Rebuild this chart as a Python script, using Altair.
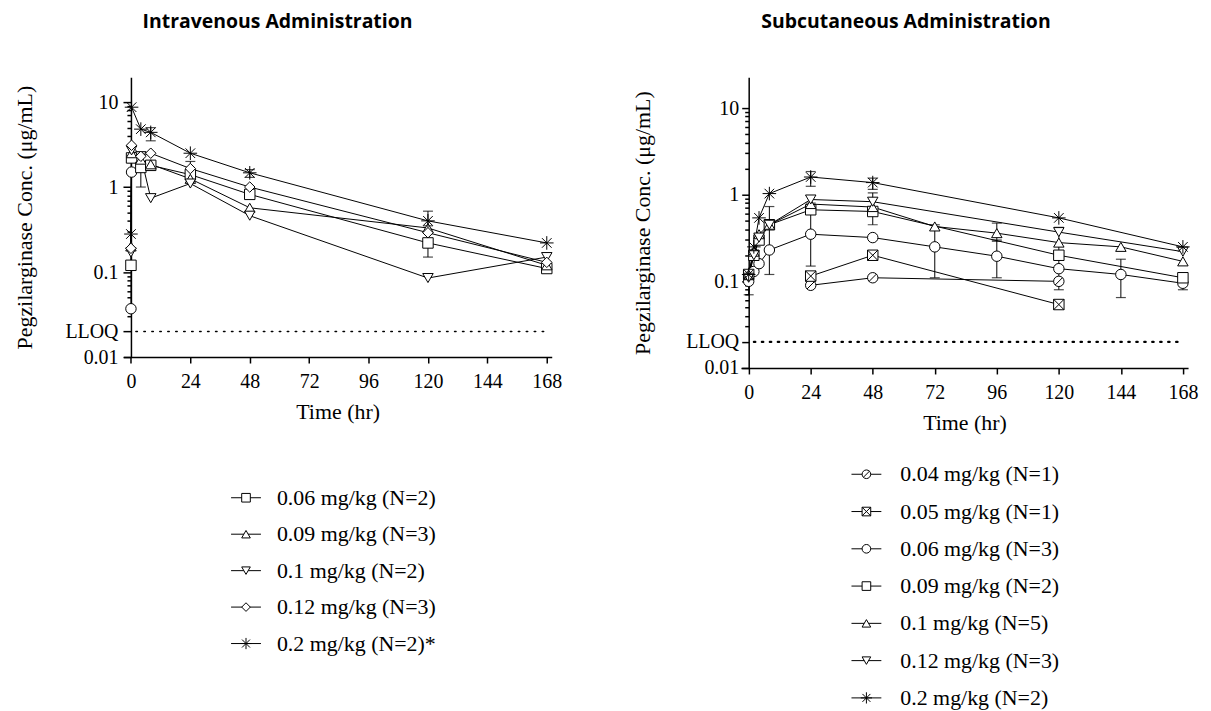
import altair as alt
import pandas as pd

SERIF = "Liberation Serif"
TITLE_FONT = "Open Sans"

# ---------------- marker shapes ----------------
STAR = "M-1.3,0L1.3,0M0,-1.3L0,1.3M-0.92,-0.92L0.92,0.92M-0.92,0.92L0.92,-0.92"
SQUARE_X = "M-1,-1L1,-1L1,1L-1,1Z M-1,-1L1,1 M-1,1L1,-1"
CIRCLE_SLASH = "M1,0A1,1,0,1,1,-1,0A1,1,0,1,1,1,0Z M-0.7,0.7L0.7,-0.7"

# ---------------- axis ticks ----------------
x_ticks = [0, 24, 48, 72, 96, 120, 144, 168]
y_major = [0.01, 0.02, 0.1, 1, 10]
y_minor = [0.03, 0.04, 0.05, 0.06, 0.07, 0.08, 0.09,
           0.2, 0.3, 0.4, 0.5, 0.6, 0.7, 0.8, 0.9,
           2, 3, 4, 5, 6, 7, 8, 9]
lloq_value = [0.02]
lloq_x = [2, 168]

# ---------------- Intravenous ----------------
iv_labels = ["0.06 mg/kg (N=2)", "0.09 mg/kg (N=3)", "0.1 mg/kg (N=2)",
             "0.12 mg/kg (N=3)", "0.2 mg/kg (N=2)*"]
iv_shapes = ["square", "triangle-up", "triangle-down", "diamond", STAR]
iv_times = [0, 0.25, 4, 8, 24, 48, 120, 168]
iv_006 = [0.12, 2.2, 1.7, 1.8, 1.4, 0.82, 0.22, 0.11]
iv_009 = [0.20, 2.5, 2.1, 1.85, 1.25, 0.57, 0.33, 0.12]
iv_010 = [0.17, 2.7, 2.3, 0.74, 1.1, 0.46, 0.085, 0.15]
iv_012 = [0.19, 3.1, 2.3, 2.5, 1.65, 1.0, 0.29, 0.13]
iv_020 = [0.28, 8.7, 4.8, 4.4, 2.5, 1.47, 0.40, 0.22]
iv_extra_times = [0, 0.25]
iv_extra = [0.037, 1.5]

iv_err_time = [4, 8, 24, 48, 120, 120, 168]
iv_err_lo = [1.0, 3.5, 1.3, 1.3, 0.15, 0.22, 0.10]
iv_err_hi = [2.6, 5.0, 2.0, 1.6, 0.35, 0.52, 0.125]

# ---------------- Subcutaneous ----------------
sc_labels = ["0.04 mg/kg (N=1)", "0.05 mg/kg (N=1)", "0.06 mg/kg (N=3)",
             "0.09 mg/kg (N=2)", "0.1 mg/kg (N=5)", "0.12 mg/kg (N=3)",
             "0.2 mg/kg (N=2)"]
sc_shapes = [CIRCLE_SLASH, SQUARE_X, "circle", "square", "triangle-up",
             "triangle-down", STAR]
sc_t_004 = [24, 48, 120]
sc_004 = [0.09, 0.11, 0.10]
sc_t_005 = [24, 48, 120]
sc_005 = [0.115, 0.20, 0.054]
sc_t_006 = [0, 2, 4, 8, 24, 48, 72, 96, 120, 144, 168]
sc_006 = [0.10, 0.13, 0.16, 0.23, 0.35, 0.32, 0.25, 0.195, 0.14, 0.12, 0.095]
sc_t_009 = [0, 2, 4, 8, 24, 48, 120, 168]
sc_009 = [0.12, 0.20, 0.30, 0.45, 0.67, 0.64, 0.20, 0.11]
sc_t_010 = [0, 2, 4, 8, 24, 48, 72, 96, 120, 144, 168]
sc_010 = [0.12, 0.22, 0.35, 0.45, 0.78, 0.72, 0.43, 0.36, 0.28, 0.25, 0.17]
sc_t_012 = [0, 2, 4, 8, 24, 48, 120, 168]
sc_012 = [0.11, 0.20, 0.32, 0.45, 0.88, 0.83, 0.37, 0.22]
sc_t_020 = [0, 2, 4, 8, 24, 48, 120, 168]
sc_020 = [0.12, 0.25, 0.54, 1.03, 1.6, 1.38, 0.54, 0.25]

sc_err_time = [0, 8, 24, 24, 48, 48, 72, 96, 96, 120, 120, 144, 168]
sc_err_lo = [0.07, 0.12, 0.15, 1.25, 0.45, 1.15, 0.11, 0.11, 0.29, 0.08, 0.22, 0.065, 0.08]
sc_err_hi = [0.13, 0.73, 0.80, 1.85, 1.05, 1.55, 0.45, 0.30, 0.47, 0.20, 0.42, 0.18, 0.11]


def long_df(pairs):
    rows = []
    for label, ts, vs in pairs:
        for t, v in zip(ts, vs):
            rows.append({"series": label, "t": t, "v": v})
    return pd.DataFrame(rows)


iv_df = long_df([(iv_labels[0], iv_times, iv_006), (iv_labels[1], iv_times, iv_009),
                 (iv_labels[2], iv_times, iv_010), (iv_labels[3], iv_times, iv_012),
                 (iv_labels[4], iv_times, iv_020)])
iv_extra_df = pd.DataFrame({"t": iv_extra_times, "v": iv_extra})
iv_err_df = pd.DataFrame({"t": iv_err_time, "lo": iv_err_lo, "hi": iv_err_hi})

sc_df = long_df([(sc_labels[0], sc_t_004, sc_004), (sc_labels[1], sc_t_005, sc_005),
                 (sc_labels[2], sc_t_006, sc_006), (sc_labels[3], sc_t_009, sc_009),
                 (sc_labels[4], sc_t_010, sc_010), (sc_labels[5], sc_t_012, sc_012),
                 (sc_labels[6], sc_t_020, sc_020)])
sc_err_df = pd.DataFrame({"t": sc_err_time, "lo": sc_err_lo, "hi": sc_err_hi})

lloq_df = pd.DataFrame({"t": [lloq_x[0]], "t2": [lloq_x[1]], "v": lloq_value})
minor_df = pd.DataFrame({"m": y_minor})

LABEL_EXPR = ("datum.value < 0.015 ? '0.01' : datum.value < 0.05 ? 'LLOQ' : "
              "datum.value < 0.5 ? '0.1' : datum.value < 5 ? '1' : '10'")

X_MIN, X_MAX = -3, 170


def panel(df, err_df, labels, shapes, width, height, y_top, title, label_pad,
          tick_major, y_title_pad, dot_width, extra_df=None):
    xs = alt.Scale(domain=[X_MIN, X_MAX], nice=False, zero=False)
    ys = alt.Scale(type="log", domain=[0.01, y_top], nice=False)
    off = -width * (0 - X_MIN) / (X_MAX - X_MIN)
    x_axis = alt.Axis(values=x_ticks, title="Time (hr)", tickSize=6, labelPadding=9,
                      titlePadding=10, grid=False)
    ax_major = alt.Axis(values=y_major, labelExpr=LABEL_EXPR,
                        title="Pegzilarginase Conc. (μg/mL)", tickSize=tick_major,
                        labelPadding=label_pad, titlePadding=y_title_pad, offset=off,
                        orient="left", grid=False)
    ax_minor = alt.Axis(values=y_minor, labels=False, title=None, tickSize=4,
                        domain=False, offset=off, orient="left", grid=False)
    shape_scale = alt.Scale(domain=labels, range=shapes)
    X = alt.X("t:Q", scale=xs, axis=x_axis)

    lines = alt.Chart(df).mark_line(color="black", strokeWidth=1).encode(
        x=X, y=alt.Y("v:Q", scale=ys, axis=ax_major), detail="series:N")
    minor = alt.Chart(minor_df).mark_point(opacity=0).encode(
        x=alt.value(0), y=alt.Y("m:Q", scale=ys, axis=ax_minor))
    lloq = alt.Chart(lloq_df).mark_rule(color="black", strokeDash=[1.5, 6.5],
                                        strokeWidth=dot_width, strokeCap="round").encode(
        x=X, x2="t2:Q", y=alt.Y("v:Q", scale=ys, axis=None))
    err_rule = alt.Chart(err_df).mark_rule(color="black", strokeWidth=1).encode(
        x=X, y=alt.Y("lo:Q", scale=ys, axis=None), y2="hi:Q")
    cap_lo = alt.Chart(err_df).mark_tick(color="black", orient="horizontal", size=10,
                                         thickness=1.2).encode(
        x=X, y=alt.Y("lo:Q", scale=ys, axis=None))
    cap_hi = alt.Chart(err_df).mark_tick(color="black", orient="horizontal", size=10,
                                         thickness=1.2).encode(
        x=X, y=alt.Y("hi:Q", scale=ys, axis=None))
    layers = [lines, lloq, minor, err_rule, cap_lo, cap_hi]
    if extra_df is not None:
        ex_line = alt.Chart(extra_df).mark_line(color="black", strokeWidth=1).encode(
            x=X, y=alt.Y("v:Q", scale=ys, axis=None))
        ex_pts = alt.Chart(extra_df).mark_point(
            shape="circle", filled=True, fill="white", stroke="black",
            strokeWidth=1, size=110, opacity=1).encode(
            x=X, y=alt.Y("v:Q", scale=ys, axis=None))
        layers += [ex_line, ex_pts]
    pts = alt.Chart(df).mark_point(filled=True, fill="white", stroke="black",
                                   strokeWidth=1, size=110, opacity=1).encode(
        x=X, y=alt.Y("v:Q", scale=ys, axis=None),
        shape=alt.Shape("series:N", scale=shape_scale, legend=None))
    layers.append(pts)
    return alt.layer(*layers).resolve_axis(y="independent").properties(
        width=width, height=height,
        title=alt.TitleParams(text=title, font=TITLE_FONT, fontSize=19.5, fontWeight="bold",
                              anchor="start", frame="bounds", dx=130, offset=45,
                              color="black"),
    )


def legend_view(labels, shapes, width, height, x_line, x_text):
    ldf = pd.DataFrame({"label": labels})
    y = alt.Y("label:N", sort=labels, scale=alt.Scale(type="point", padding=0.5), axis=None)
    base = alt.Chart(ldf)
    rule = base.mark_rule(color="black", strokeWidth=1).encode(
        x=alt.value(x_line), x2=alt.value(x_line + 30), y=y)
    pts = base.mark_point(filled=True, fill="white", stroke="black", strokeWidth=1,
                          size=75, opacity=1).encode(
        x=alt.value(x_line + 15), y=y,
        shape=alt.Shape("label:N", scale=alt.Scale(domain=labels, range=shapes), legend=None))
    txt = base.mark_text(align="left", baseline="middle", font=SERIF, fontSize=22,
                         color="black").encode(x=alt.value(x_text), y=y, text="label:N")
    return alt.layer(rule, pts, txt).properties(width=width, height=height)


iv_panel = panel(iv_df, iv_err_df, iv_labels, iv_shapes, 430, 281, 19.6,
                 "Intravenous Administration", 5, 8, 29, 1.5, extra_df=iv_extra_df)
sc_panel = panel(sc_df, sc_err_df, sc_labels, sc_shapes, 449, 292, 22.7,
                 "Subcutaneous Administration", 3, 7, 31, 2.2)

left = alt.vconcat(iv_panel, legend_view(iv_labels, iv_shapes, 330, 183, 108, 154),
                   spacing=57)
right = alt.vconcat(sc_panel, legend_view(sc_labels, sc_shapes, 330, 262, 111, 160),
                    spacing=22)

chart = alt.hconcat(left, right, spacing=69).resolve_scale(shape="independent").configure_view(
    stroke=None
).configure_axis(
    domainColor="black", tickColor="black", labelColor="black", titleColor="black",
    labelFont=SERIF, titleFont=SERIF, labelFontSize=20, titleFontSize=22,
    titleFontWeight="normal", domainWidth=1.5, tickWidth=1.5, grid=False,
).properties(background="white", padding={"left": 5, "top": 2, "right": 5, "bottom": 5})

chart.save("out.html", embed_options={"renderer": "svg", "actions": False})
